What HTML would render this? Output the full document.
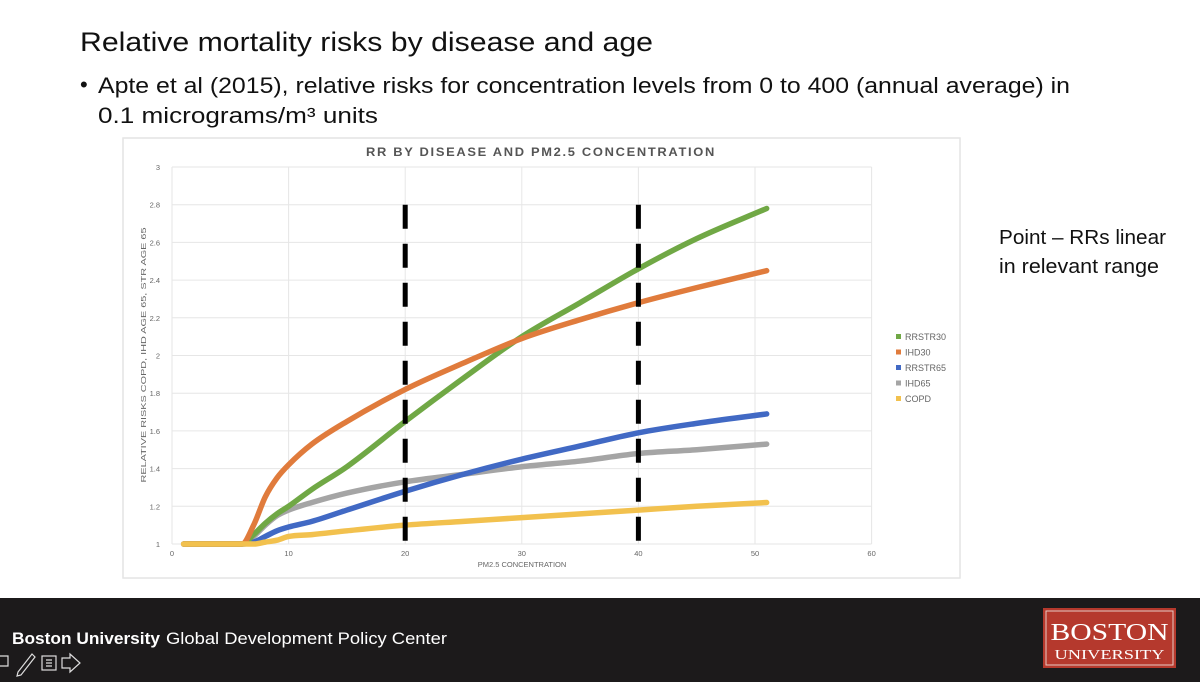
<!DOCTYPE html>
<html><head><meta charset="utf-8"><style>
html,body{margin:0;padding:0;background:#fff;}
svg{display:block;}
</style></head><body>
<svg id="root" width="1200" height="682" viewBox="0 0 1200 682" xmlns="http://www.w3.org/2000/svg" font-family="Liberation Sans, sans-serif">
<rect width="1200" height="682" fill="#ffffff"/>
<text x="80" y="51" font-size="27" fill="#111" textLength="573" lengthAdjust="spacingAndGlyphs">Relative mortality risks by disease and age</text>
<text x="80" y="92" font-size="22" fill="#111">•</text>
<text x="98" y="93" font-size="22" fill="#111" textLength="972" lengthAdjust="spacingAndGlyphs">Apte et al (2015), relative risks for concentration levels from 0 to 400 (annual average) in</text>
<text x="98" y="123" font-size="22" fill="#111" textLength="280" lengthAdjust="spacingAndGlyphs">0.1 micrograms/m³ units</text>
<text x="999" y="244" font-size="20" fill="#111" textLength="167" lengthAdjust="spacingAndGlyphs">Point – RRs linear</text>
<text x="999" y="273" font-size="20" fill="#111" textLength="160" lengthAdjust="spacingAndGlyphs">in relevant range</text>

<g>
<rect x="123" y="138" width="837" height="440" fill="#fff" stroke="#e4e4e4" stroke-width="1.5"/>
<text x="541" y="156" font-size="11.5" font-weight="bold" fill="#555" text-anchor="middle" letter-spacing="1.5" textLength="350" lengthAdjust="spacingAndGlyphs">RR BY DISEASE AND PM2.5 CONCENTRATION</text>
<g id="grid"></g>
<g id="series"></g>
<g id="dashes"></g>
<text x="522" y="567" font-size="7.5" fill="#666" text-anchor="middle">PM2.5 CONCENTRATION</text>
<text transform="translate(146,355) rotate(-90)" font-size="7" fill="#666" text-anchor="middle" textLength="255" lengthAdjust="spacingAndGlyphs">RELATIVE RISKS COPD, IHD AGE 65, STR AGE 65</text>
<g id="legend"></g>
</g>

<rect x="0" y="598" width="1200" height="84" fill="#1c1a1b"/>
<text x="12" y="644" font-size="17" fill="#fff" font-weight="bold" textLength="148" lengthAdjust="spacingAndGlyphs">Boston University</text>
<text x="166" y="644" font-size="17" fill="#fff" textLength="281" lengthAdjust="spacingAndGlyphs">Global Development Policy Center</text>
<g stroke="#ddd" fill="none" stroke-width="1.2">
<path d="M0 656 h8 v10 h-8"/>
<path d="M18 672 l14 -18 l3 3 l-14 18 l-4 1 z"/>
<rect x="42" y="656" width="14" height="14"/>
<path d="M46 660h6M46 663h6M46 666h6"/>
<path d="M62 658 h8 v-4 l10 9 l-10 9 v-4 h-8 z"/>
</g>
<g>
<rect x="1043" y="608" width="133" height="60" fill="#b5392d"/>
<rect x="1046" y="611" width="127" height="54" fill="none" stroke="#e8c9c4" stroke-width="1"/>
<text x="1109.5" y="640" font-family="Liberation Serif, serif" font-size="24" fill="#fff" text-anchor="middle" textLength="118" lengthAdjust="spacingAndGlyphs">BOSTON</text>
<text x="1109.5" y="659" font-family="Liberation Serif, serif" font-size="14" fill="#fff" text-anchor="middle" textLength="110" lengthAdjust="spacingAndGlyphs">UNIVERSITY</text>
</g>
</svg>
<script>
const xTicks=[0,10,20,30,40,50,60];
const yTicks=[1,1.2,1.4,1.6,1.8,2,2.2,2.4,2.6,2.8,3];
const seriesNames=["RRSTR30","IHD30","RRSTR65","IHD65","COPD"];
const xs=[1,6,7,8,9,10,12,15,20,25,30,35,40,45,51];
const rrstr30=[1,1,1.05,1.11,1.16,1.2,1.29,1.41,1.65,1.88,2.1,2.28,2.46,2.62,2.78];
const ihd30=[1,1,1.1,1.25,1.35,1.42,1.53,1.65,1.82,1.96,2.09,2.19,2.28,2.36,2.45];
const rrstr65=[1,1,1.01,1.04,1.07,1.09,1.12,1.18,1.28,1.37,1.45,1.52,1.59,1.64,1.69];
const ihd65=[1,1,1.04,1.1,1.15,1.18,1.22,1.27,1.33,1.37,1.41,1.44,1.48,1.5,1.53];
const copd=[1,1,1,1.01,1.02,1.04,1.05,1.07,1.1,1.12,1.14,1.16,1.18,1.2,1.22];
const markerLines=[20,40];
const colors=["#70a845","#e07b3c","#4169c4","#a5a5a5","#f2c14e"];
const NS="http://www.w3.org/2000/svg";
const X=v=>172+v*11.66;
const Y=v=>544-(v-1)*188.5;
function mk(tag,attrs,parent){const e=document.createElementNS(NS,tag);for(const k in attrs)e.setAttribute(k,attrs[k]);parent.appendChild(e);return e;}
const grid=document.getElementById('grid');
yTicks.forEach(t=>{
 const l=mk('line',{x1:X(0),x2:X(60),y1:Y(t),y2:Y(t),stroke:'#e6e6e6','stroke-width':1},grid);
 
 
 const tx=mk('text',{x:X(0)-12,y:Y(t)+3,'font-size':7.5,fill:'#666','text-anchor':'end'},grid);
 tx.textContent=String(t);
 
 
});
xTicks.forEach(t=>{
 const l=mk('line',{x1:X(t),x2:X(t),y1:Y(3),y2:Y(1),stroke:'#e6e6e6','stroke-width':1},grid);
 
 
 const tx=mk('text',{x:X(t),y:Y(1)+12,'font-size':7.5,fill:'#666','text-anchor':'middle'},grid);
 tx.textContent=String(t);
 
 
});
// monotone cubic (Fritsch-Carlson) to avoid overshoot
function path(vals){
 const n=xs.length,px=xs.map(X),py=vals.map(Y);
 const d=[],m=new Array(n);
 for(let i=0;i<n-1;i++)d.push((py[i+1]-py[i])/(px[i+1]-px[i]));
 m[0]=d[0];m[n-1]=d[n-2];
 for(let i=1;i<n-1;i++){m[i]=(d[i-1]*d[i]<=0)?0:(d[i-1]+d[i])/2;}
 for(let i=0;i<n-1;i++){
  if(d[i]===0){m[i]=0;m[i+1]=0;continue;}
  const a=m[i]/d[i],b=m[i+1]/d[i],s=a*a+b*b;
  if(s>9){const t=3/Math.sqrt(s);m[i]=t*a*d[i];m[i+1]=t*b*d[i];}
 }
 let s='M'+px[0]+' '+py[0];
 for(let i=0;i<n-1;i++){
  const h=(px[i+1]-px[i])/3;
  s+=` C${px[i]+h} ${py[i]+m[i]*h} ${px[i+1]-h} ${py[i+1]-m[i+1]*h} ${px[i+1]} ${py[i+1]}`;
 }
 return s;
}
const sg=document.getElementById('series');
const data=[rrstr30,ihd30,rrstr65,ihd65,copd];
[3,2,0,1,4].forEach(i=>{
 const el=mk('path',{d:path(data[i]),fill:'none',stroke:colors[i],'stroke-width':5.5,'stroke-linecap':'round','stroke-linejoin':'round'},sg);
 
 
});
const dg=document.getElementById('dashes');
markerLines.forEach(v=>{
 const el=mk('line',{x1:X(v),x2:X(v),y1:Y(2.8),y2:Y(1),stroke:'#000','stroke-width':5,'stroke-dasharray':'24 15'},dg);
 
 
});
const lg=document.getElementById('legend');
seriesNames.forEach((n,i)=>{
 const y=337+i*15.5;
 const m=mk('rect',{x:896,y:y-3,width:5,height:5,fill:colors[i]},lg);
 
 
 const t=mk('text',{x:905,y:y+3,'font-size':9,fill:'#666'},lg);
 t.textContent=n;
 
 
});
</script>
</body></html>
